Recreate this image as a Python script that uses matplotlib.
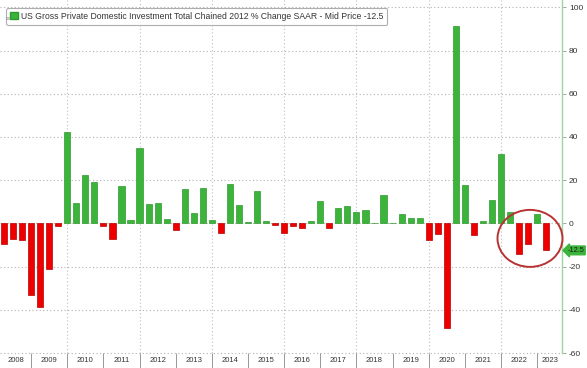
import matplotlib
matplotlib.use("Agg")
import matplotlib.pyplot as plt
from matplotlib.patches import Ellipse, Patch
from matplotlib.transforms import blended_transform_factory
import pandas as pd
import numpy as np

# ---- data (quarterly, % change SAAR) ----
start_quarter = "2008Q1"
values = [-9.5, -7.0, -7.6, -33.0, -38.5, -21.0, -1.0, 42.3,
          9.4, 22.6, 19.0, -1.0,
          -7.1, 17.5, 1.4, 34.8,
          8.8, 9.6, 1.9, -3.2,
          15.8, 4.6, 16.5, 1.4,
          -4.3, 18.1, 8.5, 0.5,
          14.8, 1.1, -0.6, -4.3,
          -1.2, -2.0, 1.1, 10.4,
          -2.0, 7.3, 8.0, 5.3,
          6.0, 0.3, 13.0, 0.4,
          4.2, 2.5, 2.6, -7.9,
          -4.8, -48.6, 91.5, 17.9,
          -5.3, 0.9, 10.7, 31.9,
          5.3, -14.1, -9.4, 4.5,
          -12.5]
years = list(range(2008, 2024))
yticks = [100, 80, 60, 40, 20, 0, -20, -40, -60]
legend_label = "US Gross Private Domestic Investment Total Chained 2012 % Change SAAR - Mid Price -12.5"
last_label = "-12.5"

periods = pd.period_range(start_quarter, periods=len(values), freq="Q")
# bars placed at quarter-end dates
xpos = np.array([p.year + p.quarter / 4.0 for p in periods])
vals = np.array(values)

GREEN = "#3cb43c"
GREEN_EDGE = "#2e9a2e"
RED = "#ee0000"
RED_EDGE = "#b80000"

plt.rcParams["font.family"] = ["Liberation Sans", "DejaVu Sans"]

W, H = 587, 368
fig = plt.figure(figsize=(W / 100, H / 100), dpi=100)
ax_left_px, ax_right_px, ax_bottom_px, ax_top_px = 0, 562, 353, 0
ax = fig.add_axes([ax_left_px / W, (H - ax_bottom_px) / H,
                   (ax_right_px - ax_left_px) / W, (ax_bottom_px - ax_top_px) / H])

px_per_year = 36.14
x0 = 2008 + 5 / px_per_year
x1 = x0 + (ax_right_px - ax_left_px) / px_per_year
ax.set_xlim(x0, x1)
ax.set_ylim(-60.0, 103.4)
px_per_unit = (ax_bottom_px - ax_top_px) / (103.4 + 60.0)

colors = [GREEN if v >= 0 else RED for v in vals]
edges = [GREEN_EDGE if v >= 0 else RED_EDGE for v in vals]
ax.bar(xpos, vals, width=0.17, color=colors, edgecolor=edges, linewidth=0.5, zorder=3)

# grid
for yv in yticks:
    ax.axhline(yv, color="#b0b0b0", lw=0.8, ls=(0, (1, 2.2)), zorder=1, clip_on=False)
for yr in range(2010, 2024, 2):
    ax.axvline(yr, color="#bdbdbd", lw=0.8, ls=(0, (1, 2.2)), zorder=1)

# spines
for s in ["left", "top", "bottom"]:
    ax.spines[s].set_visible(False)
ax.spines["right"].set_color("#9ed69e")
ax.spines["right"].set_linewidth(1.0)

# right axis ticks
ax.yaxis.tick_right()
ax.set_yticks(yticks)
ax.set_yticklabels([str(t) for t in yticks])
ax.tick_params(axis="y", direction="out", length=3, width=0.6, color="#9a9a9a",
               labelsize=6, labelcolor="#333333", pad=2)

# x axis: year separators and labels
ax.set_xticks([])
ax.set_xticks(list(range(2009, 2024)), minor=True)
ax.tick_params(axis="x", which="minor", direction="out", length=14, width=0.6, color="#888888")
trans = blended_transform_factory(ax.transData, ax.transAxes)
for yr in years:
    a = max(yr, x0)
    b = min(yr + 1, x1)
    ax.text((a + b) / 2, -8.0 / 353, str(yr), transform=trans, ha="center", va="center",
            fontsize=5.5, color="#333333", clip_on=False)

# red circle
cx = 2008 + (530 + 5) / px_per_year
cy = -(238 - 223) / px_per_unit
ell = Ellipse((cx, cy), width=65 / px_per_year, height=57 / px_per_unit, fill=False,
              edgecolor="#b83232", lw=1.4, zorder=5, clip_on=False)
ax.add_patch(ell)

# last value tag
ax.annotate(last_label, xy=(1.0, values[-1]), xycoords=("axes fraction", "data"),
            xytext=(4, 0), textcoords="offset points", ha="left", va="center",
            fontsize=5.3, color="#1a1a1a",
            bbox=dict(boxstyle="larrow,pad=0.12", fc="#3cb43c", ec="#3cb43c"),
            annotation_clip=False, zorder=6)

# legend
leg = ax.legend(handles=[Patch(facecolor=GREEN, edgecolor=GREEN_EDGE)], labels=[legend_label],
                loc="upper left", bbox_to_anchor=(6 / 562, 1 - 8 / 353),
                fontsize=6.2, frameon=True, handlelength=0.9, handleheight=0.9,
                handletextpad=0.4, borderpad=0.45, borderaxespad=0.0, fancybox=True)
leg.get_frame().set_edgecolor("#9a9a9a")
leg.get_frame().set_linewidth(0.8)
for t in leg.get_texts():
    t.set_color("#333333")
fig.text(6 / W, 1 - 20 / H, "≡", fontsize=5, color="#999999", va="center", ha="left")

fig.savefig("out.png", dpi=100)
